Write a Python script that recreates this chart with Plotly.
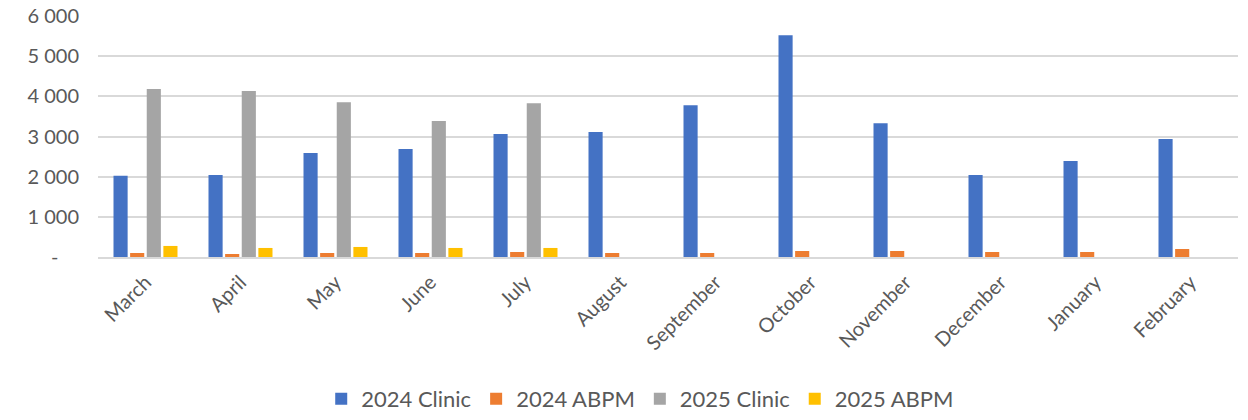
import plotly.graph_objects as go

months = ["March", "April", "May", "June", "July", "August", "September",
          "October", "November", "December", "January", "February"]
clinic_2024 = [2020, 2040, 2590, 2690, 3060, 3110, 3780, 5520, 3330, 2040, 2390, 2935]
abpm_2024 = [100, 75, 100, 100, 125, 100, 100, 150, 150, 125, 125, 200]
clinic_2025 = [4180, 4130, 3855, 3385, 3830, None, None, None, None, None, None, None]
abpm_2025 = [275, 225, 250, 225, 225, None, None, None, None, None, None, None]

y_ticks = [0, 1000, 2000, 3000, 4000, 5000, 6000]
y_tick_labels = ["-    ", "1 000", "2 000", "3 000", "4 000", "5 000", "6 000"]

series = [
    ("2024 Clinic", clinic_2024, "#4472C4"),
    ("2024 ABPM", abpm_2024, "#ED7D31"),
    ("2025 Clinic", clinic_2025, "#A5A5A5"),
    ("2025 ABPM", abpm_2025, "#FFC000"),
]

fig = go.Figure()
for name, vals, color in series:
    fig.add_trace(go.Bar(x=months, y=vals, name=name, marker_color=color,
                         marker_line_width=0))

font_family = "Lato, Open Sans, sans-serif"
fig.update_layout(
    width=1248, height=420,
    margin=dict(l=98, r=10, t=16, b=163, autoexpand=False),
    paper_bgcolor="white", plot_bgcolor="white",
    barmode="group", bargap=0.3, bargroupgap=0.15,
    font=dict(family=font_family, color="#595959", size=20),
    legend=dict(orientation="h", xref="container", x=0.513, xanchor="center",
                yref="container", y=0.0, yanchor="bottom",
                font=dict(size=22, color="#595959"), traceorder="normal",
                itemwidth=30),
    showlegend=True,
)
fig.update_yaxes(range=[0, 6000], tickvals=y_ticks, ticktext=y_tick_labels,
                 showgrid=True, gridcolor="#d9d9d9", gridwidth=1.5,
                 zeroline=False, showline=False, ticks="", automargin=False,
                 ticklabelstandoff=18,
                 tickfont=dict(size=20, color="#595959"))
fig.update_xaxes(tickangle=-45, showline=True, linecolor="#d9d9d9", linewidth=1.5,
                 ticks="", automargin=False, ticklabelstandoff=4,
                 tickfont=dict(size=20, color="#595959"))

fig.write_html("out.html")
